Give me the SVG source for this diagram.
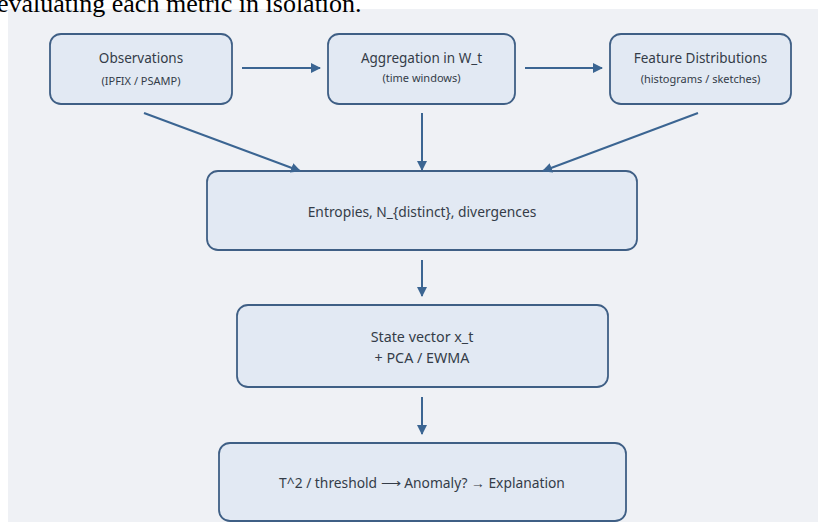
<svg xmlns="http://www.w3.org/2000/svg" width="822" height="522" viewBox="0 0 822 522">
<style>
.node rect{fill:#e2e9f3;stroke:#3f5f85;stroke-width:1.8}
.t{font-family:"Noto Sans","Open Sans",sans-serif;fill:#343c48;text-anchor:middle}
.h{font-size:13.5px}
.s{font-size:11px}
.m{font-size:13.8px}
.conn line{stroke:#3b6592;stroke-width:2;marker-end:url(#ah)}
</style>
<defs>
<marker id="ah" viewBox="0 0 10 10" refX="9" refY="5" markerWidth="5" markerHeight="5" orient="auto" markerUnits="strokeWidth">
<path d="M0,0 L10,5 L0,10 z" fill="#3b6592"/>
</marker>
</defs>
<rect width="822" height="522" fill="#ffffff"/>
<rect x="8" y="9" width="810" height="513" fill="#eff1f5"/>
<text x="-3" y="12" font-family="Liberation Serif,serif" font-size="26" fill="#000">evaluating each metric in isolation.</text>
<g id="observations" class="node">
<rect x="50" y="34" width="182" height="70" rx="11"/>
<text class="t h" x="141" y="63">Observations</text>
<text class="t s" x="141" y="85">(IPFIX / PSAMP)</text>
</g>
<g id="aggregation" class="node">
<rect x="328" y="34" width="187" height="70" rx="11"/>
<text class="t h" x="421.5" y="63">Aggregation in W_t</text>
<text class="t s" x="421.5" y="82">(time windows)</text>
</g>
<g id="features" class="node">
<rect x="610" y="34" width="181" height="70" rx="11"/>
<text class="t h" x="700.5" y="63">Feature Distributions</text>
<text class="t s" x="700.5" y="83">(histograms / sketches)</text>
</g>
<g id="entropies" class="node">
<rect x="207" y="171" width="430" height="79" rx="11"/>
<text class="t m" x="422" y="217">Entropies, N_{distinct}, divergences</text>
</g>
<g id="state" class="node">
<rect x="237" y="305" width="371" height="82" rx="11"/>
<text class="t m" x="422" y="342" style="font-size:14.3px">State vector x_t</text>
<text class="t m" x="422" y="363" style="font-size:14.3px">+ PCA / EWMA</text>
</g>
<g id="threshold" class="node">
<rect x="219" y="443" width="407" height="78" rx="11"/>
<text class="t m" x="422" y="488">T^2 / threshold ⟶ Anomaly? → Explanation</text>
</g>
<g id="connectors" class="conn">
<line x1="242" y1="68" x2="320" y2="68"/>
<line x1="525" y1="68" x2="602" y2="68"/>
<line x1="144" y1="113" x2="300" y2="171"/>
<line x1="422" y1="113" x2="422" y2="170"/>
<line x1="698" y1="113" x2="543" y2="171"/>
<line x1="422" y1="260" x2="422" y2="296"/>
<line x1="422" y1="397" x2="422" y2="434"/>
</g>
</svg>
